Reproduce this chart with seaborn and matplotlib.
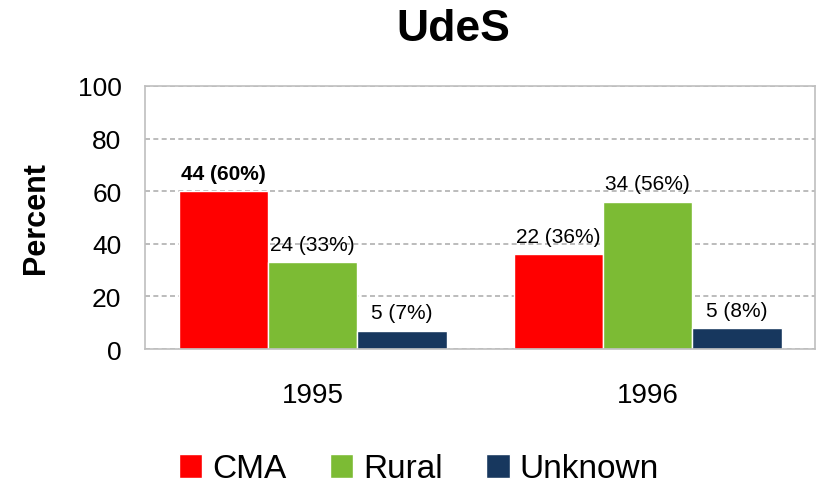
import pandas as pd
import matplotlib.pyplot as plt
import seaborn as sns

# values
years = ["1995", "1996"]
groups = ["CMA", "Rural", "Unknown"]
cma_pct = [60, 36]
rural_pct = [33, 56]
unknown_pct = [7, 8]
cma_n = [44, 22]
rural_n = [24, 34]
unknown_n = [5, 5]

colors = ["#FF0000", "#7CBB34", "#17375E"]

sns.set_style("white")
plt.rcParams["font.family"] = ["Liberation Sans", "DejaVu Sans"]
plt.rcParams["text.color"] = "black"
plt.rcParams["axes.labelcolor"] = "black"
plt.rcParams["xtick.color"] = "black"
plt.rcParams["ytick.color"] = "black"

df = pd.DataFrame({
    "Year": years * 3,
    "Group": [g for g in groups for _ in years],
    "Percent": cma_pct + rural_pct + unknown_pct,
    "N": cma_n + rural_n + unknown_n,
})

fig = plt.figure(figsize=(8.21, 4.89), dpi=100)
ax = fig.add_axes([145 / 821, 1 - 350 / 489, 670 / 821, 263 / 489])

sns.barplot(data=df, x="Year", y="Percent", hue="Group", palette=colors,
            width=0.8, saturation=1, ax=ax, legend=True)

# bar labels: "n (pct%)"
for gi, cont in enumerate(ax.containers):
    sub = df[df["Group"] == groups[gi]].reset_index(drop=True)
    for bi, bar in enumerate(cont):
        txt = f"{sub.loc[bi, 'N']} ({sub.loc[bi, 'Percent']}%)"
        bold = (gi == 0 and bi == 0)
        ax.annotate(txt, (bar.get_x() + bar.get_width() / 2, bar.get_height()),
                    xytext=(0, 6), textcoords="offset points",
                    ha="center", va="bottom", fontsize=15,
                    fontweight="bold" if bold else "normal")

ax.set_ylim(0, 100)
ax.set_yticks(range(0, 101, 20))
ax.set_xlim(-0.5, 1.5)
ax.yaxis.grid(True, linestyle=(0, (3, 2)), color="#B0B0B0", linewidth=1.2)
ax.set_axisbelow(True)
for s in ax.spines.values():
    s.set_color("#BFBFBF")
    s.set_linewidth(1.2)

ax.tick_params(axis="y", labelsize=19, length=0, pad=17)
ax.tick_params(axis="x", labelsize=20, length=0, pad=24)
ax.set_xlabel("")
ax.set_ylabel("Percent", fontsize=22, fontweight="bold", labelpad=19)

fig.text(453 / 821, 1 - 41 / 489, "UdeS", fontsize=32, fontweight="bold",
         ha="center", va="baseline")

handles, labels = ax.get_legend_handles_labels()
ax.get_legend().remove()
fig.legend(handles, labels, loc="center", bbox_to_anchor=(419 / 821, 1 - 470 / 489),
           ncol=3, frameon=False, fontsize=24, handlelength=0.7, handleheight=0.7,
           handletextpad=0.3, columnspacing=1.3)

plt.savefig("out.png", dpi=100)
